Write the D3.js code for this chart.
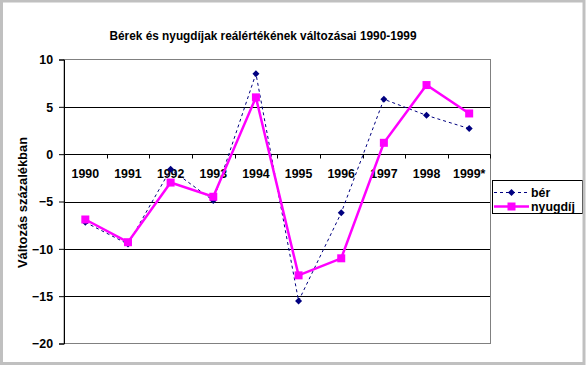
<!DOCTYPE html>
<html>
<head>
<meta charset="utf-8">
<script src="https://cdn.jsdelivr.net/npm/d3@7"></script>
<style>
  html, body { margin: 0; padding: 0; background: #fff; }
  svg { display: block; }
  text { font-family: Arial, "Liberation Sans", sans-serif; font-weight: bold; font-size: 13px; fill: #000; }
</style>
</head>
<body>
<script>
const years = ["1990","1991","1992","1993","1994","1995","1996","1997","1998","1999*"];
const ber = [-7.2, -9.5, -1.6, -4.9, 8.5, -15.5, -6.2, 5.8, 4.1, 2.7];
const nyugdij = [-6.9, -9.3, -3.0, -4.5, 6.0, -12.8, -11.0, 1.2, 7.3, 4.3];
const yTicks = [10, 5, 0, -5, -10, -15, -20];
const seriesNames = ["bér", "nyugdíj"];
const title = "Bérek és nyugdíjak reálértékének változásai 1990-1999";
const yTitle = "Változás százalékban";

const W = 586, H = 365;
const svg = d3.select("body").append("svg").attr("width", W).attr("height", H);

svg.append("rect").attr("x", 0).attr("y", 0).attr("width", W).attr("height", H).attr("fill", "#fff");

const plot = {left: 64, right: 490.5, top: 59.5, bottom: 343.5};
const x = d3.scaleBand().domain(years).range([plot.left, plot.right]).padding(0);
const y = d3.scaleLinear().domain([-20, 10]).range([plot.bottom, plot.top]);

// gridlines
svg.append("g").selectAll("line").data(yTicks.filter(d => d !== 10 && d !== -20)).join("line")
  .attr("x1", plot.left).attr("x2", plot.right)
  .attr("y1", d => Math.round(y(d)) + 0.5).attr("y2", d => Math.round(y(d)) + 0.5)
  .attr("stroke", "#000").attr("stroke-width", 1);

// plot border (grey)
svg.append("rect").attr("x", plot.left).attr("y", plot.top)
  .attr("width", plot.right - plot.left).attr("height", plot.bottom - plot.top)
  .attr("fill", "none").attr("stroke", "#808080").attr("stroke-width", 1);

// y axis
const yAxis = d3.axisLeft(y).tickValues(yTicks).tickSize(5).tickPadding(6).tickFormat(d3.format("d"));
const gy = svg.append("g").attr("transform", `translate(${plot.left},0)`).call(yAxis);
gy.select(".domain").attr("stroke", "#000");
gy.selectAll(".tick line").attr("stroke", "#000");
gy.selectAll("text").attr("font-family", "Arial, 'Liberation Sans', sans-serif").attr("font-size", 13).attr("font-weight", "bold").attr("fill", "#000");

// x axis at y=0
const y0 = Math.round(y(0)) + 0.5;
const gx = svg.append("g").attr("transform", `translate(0,${y0})`);
gx.append("line").attr("x1", plot.left).attr("x2", plot.right).attr("stroke", "#000");
const bounds = years.map(d => x(d) + x.bandwidth());
gx.selectAll("line.tk").data(bounds).join("line").attr("class", "tk")
  .attr("x1", d => Math.round(d) + 0.5).attr("x2", d => Math.round(d) + 0.5)
  .attr("y1", 0).attr("y2", 4).attr("stroke", "#000");
gx.selectAll("text").data(years).join("text")
  .attr("x", d => x(d) + x.bandwidth() / 2).attr("y", 23.5)
  .attr("text-anchor", "middle").text(d => d);

const cx = d => x(d) + x.bandwidth() / 2;

// bér series
const lineGen = d3.line().x((d, i) => cx(years[i])).y(d => y(d));
svg.append("path").datum(ber).attr("d", lineGen)
  .attr("fill", "none").attr("stroke", "#000080").attr("stroke-width", 1).attr("stroke-dasharray", "3,3");

// nyugdíj series
svg.append("path").datum(nyugdij).attr("d", lineGen)
  .attr("fill", "none").attr("stroke", "#FF00FF").attr("stroke-width", 2.5);

const diamond = (cxp, cyp, r) => `M${cxp},${cyp - r}L${cxp + r},${cyp}L${cxp},${cyp + r}L${cxp - r},${cyp}Z`;
svg.append("g").selectAll("path").data(ber).join("path")
  .attr("d", (d, i) => diamond(cx(years[i]), y(d), 3.5)).attr("fill", "#000080");
svg.append("g").selectAll("rect").data(nyugdij).join("rect")
  .attr("x", (d, i) => cx(years[i]) - 4).attr("y", d => y(d) - 4)
  .attr("width", 8).attr("height", 8).attr("fill", "#FF00FF");

// title
svg.append("text").attr("x", 263).attr("y", 40).attr("text-anchor", "middle")
  .attr("textLength", 307).attr("lengthAdjust", "spacingAndGlyphs").text(title);

// y title
svg.append("text").attr("transform", "translate(27,202.5) rotate(-90)").attr("text-anchor", "middle")
  .attr("textLength", 131).attr("lengthAdjust", "spacingAndGlyphs").text(yTitle);

// legend
const lg = svg.append("g");
lg.append("rect").attr("x", 492.5).attr("y", 180.5).attr("width", 90).attr("height", 33)
  .attr("fill", "#fff").attr("stroke", "#000").attr("stroke-width", 1);
const rows = [192.5, 206.5];
lg.append("line").attr("x1", 494).attr("x2", 529).attr("y1", rows[0]).attr("y2", rows[0])
  .attr("stroke", "#000080").attr("stroke-dasharray", "3,3");
lg.append("path").attr("d", diamond(511.5, rows[0], 3.5)).attr("fill", "#000080");
lg.append("line").attr("x1", 494).attr("x2", 529).attr("y1", rows[1]).attr("y2", rows[1])
  .attr("stroke", "#FF00FF").attr("stroke-width", 2.5);
lg.append("rect").attr("x", 507.5).attr("y", rows[1] - 4).attr("width", 8).attr("height", 8).attr("fill", "#FF00FF");
lg.selectAll("text").data(seriesNames).join("text")
  .attr("x", 531).attr("y", (d, i) => rows[i] + 4.5).attr("font-size", 12).text(d => d);

// compress small texts slightly to mimic narrow hinted Arial
svg.selectAll("g text").each(function() {
  const t = d3.select(this);
  if (t.attr("textLength")) return;
  const n = this.getComputedTextLength();
  t.attr("textLength", n * 0.95).attr("lengthAdjust", "spacingAndGlyphs");
});

// outer frame
svg.append("rect").attr("x", 1.5).attr("y", 1).attr("width", W - 3.5).attr("height", H - 2.5)
  .attr("fill", "none").attr("stroke", "#c0c0c0").attr("stroke-width", 3);
</script>
</body>
</html>
